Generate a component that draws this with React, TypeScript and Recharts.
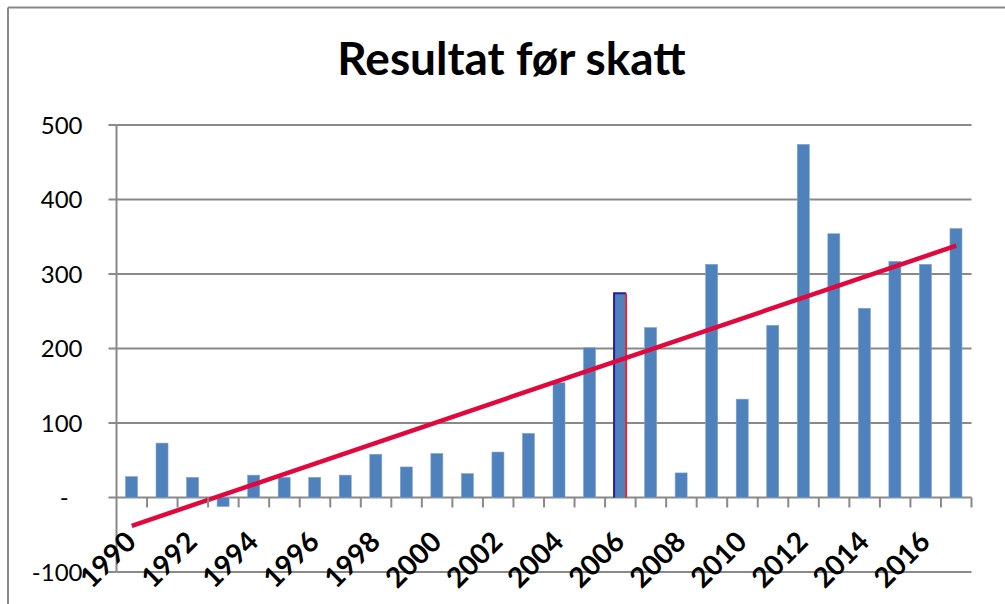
import React from 'react';
import { ComposedChart, Bar, Line, XAxis, YAxis, CartesianGrid } from 'recharts';

const title = 'Resultat før skatt';
const years = [
  '1990', '1991', '1992', '1993', '1994', '1995', '1996', '1997', '1998', '1999',
  '2000', '2001', '2002', '2003', '2004', '2005', '2006', '2007', '2008', '2009',
  '2010', '2011', '2012', '2013', '2014', '2015', '2016', '2017',
];
const results = [
  28, 73, 27, -12, 30, 27, 27, 30, 58, 41,
  59, 32, 61, 86, 154, 201, 274, 228, 33, 313,
  132, 231, 474, 354, 254, 317, 313, 361,
];
const trendStart = -38;
const trendEnd = 338;
const yTicks = [-100, 0, 100, 200, 300, 400, 500];
const highlightYear = '2006';

const data = years.map((year, i) => ({
  year,
  value: results[i],
  trend: i === 0 ? trendStart : i === years.length - 1 ? trendEnd : null,
}));

const W = 1005;
const H = 604;
const MARGIN = { top: 125, right: 33.5, bottom: 0, left: 36.5 };
const Y_AXIS_W = 80;
const X_AXIS_H = 32;
const Y_MIN = yTicks[0];
const Y_MAX = yTicks[yTicks.length - 1];
const PLOT_H = H - MARGIN.top - MARGIN.bottom - X_AXIS_H;
const PLOT_W = W - MARGIN.left - MARGIN.right - Y_AXIS_W;
const BAND = PLOT_W / years.length;
const ZERO_Y = MARGIN.top + (PLOT_H * Y_MAX) / (Y_MAX - Y_MIN);

const GRID = '#898989';
const BAR_FILL = '#4F81BD';
const TREND = '#E2073C';
const FONT = 'Lato, "Open Sans", sans-serif';

const BarShape = (props: any) => {
  const { x, y, width, height, payload } = props;
  const top = Math.min(y, y + height);
  const h = Math.abs(height);
  if (payload && payload.year === highlightYear) {
    return (
      <g>
        <rect x={x} y={top} width={width} height={h} fill={BAR_FILL} />
        <path d={`M${x},${top + h} V${top} H${x + width}`} stroke="#2B1C96" strokeWidth={2} fill="none" />
        <line x1={x + width} y1={top} x2={x + width} y2={top + h} stroke="#E8262E" strokeWidth={2} />
      </g>
    );
  }
  return <rect x={x} y={top} width={width} height={h} fill={BAR_FILL} stroke="#7FA2D0" strokeWidth={0.6} />;
};

const XTick = (props: any) => {
  const { x, index } = props;
  const label = years[index];
  const bx = x + BAND / 2;
  const ax = x + 6;
  const ay = ZERO_Y + 46;
  return (
    <g>
      <line x1={bx} y1={ZERO_Y} x2={bx} y2={ZERO_Y + 10} stroke={GRID} strokeWidth={2} />
      {index % 2 === 0 ? (
        <text
          x={ax}
          y={ay}
          textAnchor="end"
          transform={`rotate(-45 ${ax} ${ay})`}
          fontFamily={FONT}
          fontWeight="bold"
          fontSize={28}
          fill="#000"
        >
          {label}
        </text>
      ) : null}
    </g>
  );
};

export default function App() {
  return (
    <div style={{ position: 'absolute', left: 0, top: 0, width: W, height: H, background: '#fff' }}>
      <ComposedChart
        width={W}
        height={H}
        data={data}
        margin={MARGIN}
        barSize={12}
        style={{ position: 'absolute', left: 0, top: 0 }}
      >
        <CartesianGrid horizontal vertical={false} stroke={GRID} strokeWidth={2} />
        <XAxis
          dataKey="year"
          interval={0}
          axisLine={false}
          tickLine={false}
          tickSize={0}
          tickMargin={0}
          height={X_AXIS_H}
          tick={<XTick />}
        />
        <YAxis
          width={Y_AXIS_W}
          domain={[Y_MIN, Y_MAX]}
          ticks={yTicks}
          interval={0}
          axisLine={{ stroke: GRID, strokeWidth: 2 }}
          tickLine={{ stroke: GRID, strokeWidth: 2 }}
          tickSize={8}
          tickMargin={26}
          tickFormatter={(v: number) => (v === 0 ? '-\u2007' : String(v))}
          tick={{ fontFamily: FONT, fontSize: 24, fill: '#000' }}
        />
        <Bar dataKey="value" shape={<BarShape />} isAnimationActive={false} />
        <Line
          dataKey="trend"
          stroke={TREND}
          strokeWidth={4.5}
          dot={false}
          connectNulls
          isAnimationActive={false}
        />
      </ComposedChart>
      <svg width={W} height={H} style={{ position: 'absolute', left: 0, top: 0, pointerEvents: 'none' }}>
        <line x1={8} y1={7.5} x2={W} y2={7.5} stroke={GRID} strokeWidth={2} />
        <line x1={8} y1={7.5} x2={8} y2={H} stroke={GRID} strokeWidth={2} />
        <text x={511.5} y={75} textAnchor="middle" fontFamily={FONT} fontWeight="bold" fontSize={46} fill="#000">
          {title}
        </text>
      </svg>
    </div>
  );
}
